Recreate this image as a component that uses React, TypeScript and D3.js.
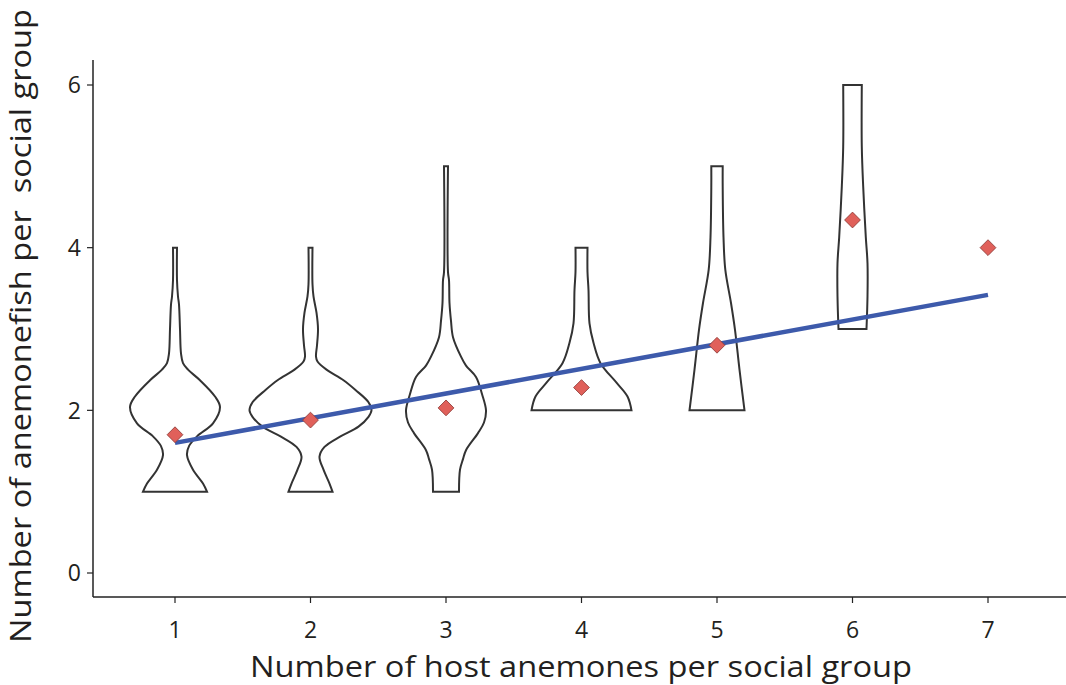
import React from "react";
import * as d3 from "d3";

// Host anemone groups (x categories)
const groups = [1, 2, 3, 4, 5, 6, 7];
const xTicks = [1, 2, 3, 4, 5, 6, 7];
const yTicks = [0, 2, 4, 6];

// Violin profiles: [anemonefish count, density half-width]
const violin1: [number, number][] = [[1.0, 32], [1.1, 28], [1.27, 18], [1.45, 12], [1.56, 14], [1.68, 22], [1.84, 38], [2.04, 45], [2.17, 40], [2.37, 25], [2.5, 13], [2.58, 8], [2.7, 6], [3.0, 5], [3.3, 4], [3.4, 3], [3.6, 2], [4.0, 2]];
const violin2: [number, number][] = [[1.0, 22], [1.1, 19], [1.27, 13], [1.43, 9], [1.55, 14], [1.68, 30], [1.8, 48], [1.92, 58], [2.0, 61], [2.1, 58], [2.25, 45], [2.37, 33], [2.5, 16], [2.6, 7], [2.66, 5.5], [2.8, 6.5], [3.0, 7.5], [3.2, 6], [3.4, 3], [3.55, 2], [4.0, 2]];
const violin3: [number, number][] = [[1.0, 13], [1.27, 14], [1.4, 17], [1.51, 20], [1.72, 32], [1.85, 38], [2.0, 40], [2.2, 36], [2.41, 30], [2.55, 20], [2.66, 15], [2.9, 7], [3.1, 5], [3.32, 3.5], [3.6, 3], [3.7, 2], [5.0, 2]];
const violin4: [number, number][] = [[2.0, 50], [2.17, 46], [2.34, 35], [2.58, 19], [2.83, 12], [3.07, 8], [3.48, 7], [3.7, 6], [4.0, 6]];
const violin5: [number, number][] = [[2.0, 27.5], [2.5, 22.5], [2.99, 18], [3.32, 14], [3.73, 8.3], [4.13, 6.5], [4.75, 5.7], [5.0, 5.7]];
const violin6: [number, number][] = [[3.0, 14], [3.4, 15], [3.81, 15], [4.13, 13.3], [4.75, 10.7], [5.24, 9.3], [6.0, 9.3]];
const violins = [violin1, violin2, violin3, violin4, violin5, violin6];

// Group means (red diamonds)
const means = [1.7, 1.88, 2.03, 2.28, 2.8, 4.34, 4.0];

// Linear fit endpoints
const fitX = [1, 7];
const fitY = [1.6, 3.42];

const W = 1066;
const H = 685;

export default function App() {
  const x = d3.scaleLinear().domain([1, 7]).range([175, 988]);
  const y = d3.scaleLinear().domain([0, 6]).range([573, 85]);
  const wScale = d3.scaleLinear().domain([0, 61]).range([0, 61]);

  const axisLeft = 93;
  const axisBottom = 597;

  const fitLine = d3
    .line<number>()
    .x((d) => x(fitX[d]))
    .y((d) => y(fitY[d]));

  const font = "'Open Sans', 'Noto Sans', sans-serif";

  return (
    <svg width={W} height={H} style={{ position: "absolute", left: 0, top: 0, background: "#fff" }}>
      {/* violins */}
      {violins.map((prof, i) => {
        const cx = x(groups[i]);
        const area = d3
          .area<[number, number]>()
          .y((d) => y(d[0]))
          .x0((d) => cx - wScale(d[1]))
          .x1((d) => cx + wScale(d[1]))
          .curve(d3.curveCatmullRom.alpha(0.5));
        return (
          <path key={i} d={area(prof) || ""} fill="none" stroke="#333" strokeWidth={2} />
        );
      })}

      {/* fit line */}
      <path d={fitLine([0, 1]) || ""} stroke="#3d5aab" strokeWidth={4.5} fill="none" />

      {/* means */}
      {means.map((m, i) => (
        <path
          key={i}
          transform={`translate(${x(groups[i])},${y(m)}) rotate(45)`}
          d={d3.symbol().type(d3.symbolSquare).size(125)() || ""}
          fill="#e0605a"
          stroke="#8e3b37"
          strokeWidth={0.8}
        />
      ))}

      {/* axes */}
      <line x1={axisLeft} x2={axisLeft} y1={60} y2={axisBottom} stroke="#222" strokeWidth={1.5} />
      <line x1={axisLeft} x2={W} y1={axisBottom} y2={axisBottom} stroke="#222" strokeWidth={1.5} />
      {yTicks.map((t) => (
        <g key={t}>
          <line x1={axisLeft - 6} x2={axisLeft} y1={y(t)} y2={y(t)} stroke="#222" strokeWidth={1.2} />
          <text x={81} y={y(t)} dy="0.36em" textAnchor="end" fontFamily={font} fontSize={23} fill="#231f20">
            {t}
          </text>
        </g>
      ))}
      {xTicks.map((t) => (
        <g key={t}>
          <line x1={x(t)} x2={x(t)} y1={axisBottom} y2={axisBottom + 6} stroke="#222" strokeWidth={1.2} />
          <text x={x(t)} y={638} textAnchor="middle" fontFamily={font} fontSize={23} fill="#231f20">
            {t}
          </text>
        </g>
      ))}

      <text x={581} y={677} textAnchor="middle" fontFamily={font} fontSize={30} fill="#231f20" textLength={662} lengthAdjust="spacingAndGlyphs">
        Number of host anemones per social group
      </text>
      <text
        transform="translate(31,326) rotate(-90)"
        textAnchor="middle"
        fontFamily={font}
        fontSize={30}
        fill="#231f20"
        textLength={634}
        lengthAdjust="spacingAndGlyphs"
        style={{ whiteSpace: "pre" }}
      >
        {"Number of anemonefish per  social group"}
      </text>
    </svg>
  );
}
